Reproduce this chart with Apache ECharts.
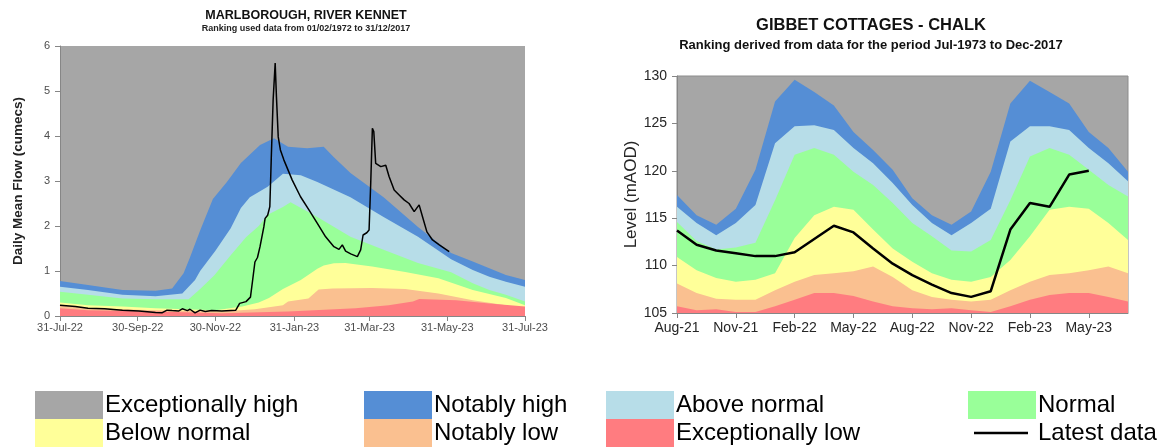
<!DOCTYPE html>
<html><head><meta charset="utf-8">
<script src="https://cdn.jsdelivr.net/npm/echarts@6/dist/echarts.min.js"></script>
<style>html,body{margin:0;padding:0;background:#fff}#c{width:1158px;height:448px}</style>
</head><body><div id="c"></div>
<script>
// ---------- Left chart: Marlborough, River Kennet (day offset from 31-Jul-22, flow in cumecs) ----------
const flowTickDays = [0, 61, 122, 184, 243, 304, 365];
const flowTickLabels = ['31-Jul-22', '30-Sep-22', '30-Nov-22', '31-Jan-23', '31-Mar-23', '31-May-23', '31-Jul-23'];

const flowNotablyHighTop = [[0,0.78],[22,0.69],[49,0.58],[75,0.56],[88,0.61],[97,0.95],[102,1.3],[110,1.9],[120,2.6],[131,2.98],[142,3.4],[157,3.8],[168,3.95],[179,3.76],[194,3.73],[207,3.76],[215,3.53],[228,3.18],[254,2.64],[281,1.98],[307,1.4],[324,1.21],[337,1.06],[350,0.91],[365,0.8]];
const flowAboveNormalTop = [[0,0.65],[22,0.58],[49,0.47],[75,0.44],[96,0.5],[106,0.8],[110,1.0],[122,1.45],[134,1.95],[142,2.4],[149,2.64],[163,2.87],[175,3.16],[189,3.13],[202,2.98],[228,2.64],[254,2.2],[281,1.76],[307,1.26],[324,1.02],[337,0.87],[350,0.76],[365,0.65]];
const flowNormalTop = [[0,0.54],[22,0.47],[49,0.39],[75,0.37],[101,0.37],[110,0.6],[121,0.9],[134,1.35],[146,1.75],[156,2.0],[163,2.25],[175,2.42],[181,2.53],[202,2.2],[228,1.76],[254,1.47],[281,1.18],[307,0.97],[324,0.73],[337,0.58],[350,0.47],[365,0.32]];
const flowBelowNormalTop = [[0,0.3],[22,0.24],[49,0.21],[75,0.17],[122,0.13],[143,0.21],[156,0.3],[164,0.4],[175,0.6],[189,0.8],[202,1.05],[207,1.12],[215,1.17],[224,1.18],[245,1.1],[271,0.98],[297,0.84],[324,0.58],[350,0.4],[365,0.24]];
const flowNotablyLowTop = [[0,0.24],[22,0.17],[75,0.13],[127,0.1],[153,0.15],[175,0.24],[179,0.32],[195,0.39],[203,0.59],[214,0.61],[245,0.62],[271,0.6],[297,0.5],[324,0.35],[350,0.24],[365,0.17]];
const flowExLowTop = [[0,0.17],[22,0.13],[75,0.1],[127,0.06],[179,0.1],[232,0.17],[258,0.24],[277,0.32],[282,0.38],[311,0.35],[337,0.28],[365,0.21]];
const flowLatest = [[0,0.24],[12,0.21],[22,0.17],[35,0.16],[49,0.13],[62,0.11],[75,0.08],[80,0.07],[84,0.13],[88,0.12],[93,0.11],[96,0.16],[100,0.12],[102,0.15],[106,0.07],[110,0.13],[114,0.1],[119,0.12],[127,0.11],[138,0.13],[141,0.28],[146,0.32],[149.5,0.42],[151,0.75],[153,1.2],[155,1.3],[157,1.54],[160,1.98],[161,2.17],[163,2.24],[164.7,2.43],[165.8,3.47],[167.3,4.8],[168.9,5.62],[169.9,4.87],[171.3,3.98],[173,3.69],[175.7,3.47],[182.3,3.02],[188.8,2.65],[195.4,2.36],[202,2.06],[208.5,1.76],[215,1.54],[219,1.48],[221.6,1.58],[224.2,1.44],[228.2,1.38],[233.4,1.32],[236,1.47],[237.9,1.8],[240.8,1.85],[242.6,1.91],[243.9,2.95],[245.2,4.17],[246.3,4.1],[247.8,3.39],[251.8,3.32],[255.7,3.35],[258.3,3.1],[262.3,2.8],[266.2,2.69],[270.1,2.58],[274,2.5],[278,2.32],[281.9,2.47],[284.5,2.21],[288,1.87],[292.4,1.69],[297.7,1.58],[305.5,1.43]];

// ---------- Right chart: Gibbet Cottages - Chalk (monthly level, mAOD) ----------
const levelMonths = ['Aug-21','Sep-21','Oct-21','Nov-21','Dec-21','Jan-22','Feb-22','Mar-22','Apr-22','May-22','Jun-22','Jul-22','Aug-22','Sep-22','Oct-22','Nov-22','Dec-22','Jan-23','Feb-23','Mar-23','Apr-23','May-23','Jun-23','Jul-23'];
const levelNotablyHighTop = [117.45,115.3,114.3,116.0,120.1,127.3,129.6,128.3,126.9,124.1,122.2,120.1,117.1,115.3,114.3,115.7,119.9,127.1,129.5,128.3,127.1,124.1,122.4,119.9];
const levelAboveNormalTop = [116.2,114.5,113.2,114.5,116.4,122.9,124.7,124.8,124.3,122.4,120.8,118.7,116.4,114.5,113.2,114.5,116.0,123.1,124.7,124.7,124.3,122.4,120.8,118.9];
const levelNormalTop = [114.6,112.6,111.7,111.9,112.4,116.9,121.7,122.4,121.7,119.9,118.5,116.6,114.5,113.1,111.6,111.5,112.7,116.9,121.5,122.4,121.7,120.1,118.5,117.3];
const levelBelowNormalTop = [110.9,109.5,108.7,108.3,108.5,109.2,112.9,115.3,116.2,115.9,113.8,111.8,110.4,109.2,108.5,108.3,108.8,110.6,113.1,115.9,116.2,116.0,114.5,112.7];
const levelNotablyLowTop = [108.1,107.1,106.5,106.4,106.4,107.4,108.3,109.0,109.2,109.4,109.9,108.8,107.4,106.7,106.4,106.2,106.4,107.4,108.3,109.0,109.2,109.5,109.9,109.2];
const levelExLowTop = [105.7,105.3,105.4,105.1,105.1,105.7,106.4,107.1,107.1,106.8,106.2,105.7,105.5,105.4,105.5,105.3,105.1,105.7,106.4,106.9,107.1,107.1,106.7,106.2];
const levelLatest = [113.7,112.2,111.6,111.3,111.0,111.0,111.4,112.8,114.2,113.5,111.8,110.2,109.0,108.0,107.1,106.7,107.3,113.8,116.6,116.2,119.6,120.0];

const FONT = 'Liberation Sans, Arial, sans-serif';
const C = {
  exHigh: '#A6A6A6', notHigh: '#558ED5', above: '#B7DDE8', normal: '#99FF99',
  below: '#FFFF99', notLow: '#FAC090', exLow: '#FF7C80', latest: '#000000'
};

function band(name, color, data, idx) {
  return {
    type: 'line', name: name, xAxisIndex: idx, yAxisIndex: idx, data: data,
    symbol: 'none', showSymbol: false, silent: true, animation: false,
    lineStyle: { opacity: 0 }, itemStyle: { color: color },
    areaStyle: { color: color, opacity: 1, origin: 'start' }
  };
}

const chart = echarts.init(document.getElementById('c'), null, { renderer: 'canvas' });

const legendBase = {
  orient: 'vertical', itemGap: 0, itemWidth: 68, itemHeight: 28, icon: 'rect',
  selectedMode: false, top: 391, height: 56, padding: 0, itemStyle: { borderWidth: 0 },
  textStyle: { fontSize: 24, color: '#000', fontFamily: FONT, lineHeight: 28, padding: [0, 0, 0, -3] }
};

chart.setOption({
  animation: false,
  textStyle: { fontFamily: FONT },
  title: [
    { text: 'MARLBOROUGH, RIVER KENNET', left: 306, top: 16, textAlign: 'center', textVerticalAlign: 'middle', padding: 0,
      textStyle: { fontSize: 12.5, fontWeight: 'bold', color: '#111', fontFamily: FONT } },
    { text: 'Ranking used data from 01/02/1972 to 31/12/2017', left: 306, top: 29, textAlign: 'center', textVerticalAlign: 'middle', padding: 0,
      textStyle: { fontSize: 9, fontWeight: 'bold', color: '#222', fontFamily: FONT } },
    { text: 'GIBBET COTTAGES - CHALK', left: 871, top: 25, textAlign: 'center', textVerticalAlign: 'middle', padding: 0,
      textStyle: { fontSize: 16.5, fontWeight: 'bold', color: '#111', fontFamily: FONT } },
    { text: 'Ranking derived from data for the period Jul-1973 to Dec-2017', left: 871, top: 45, textAlign: 'center', textVerticalAlign: 'middle', padding: 0,
      textStyle: { fontSize: 13, fontWeight: 'bold', color: '#111', fontFamily: FONT } }
  ],
  legend: [
    Object.assign({}, legendBase, { left: 35, data: ['Exceptionally high', 'Below normal'] }),
    Object.assign({}, legendBase, { left: 364, data: ['Notably high', 'Notably low'] }),
    Object.assign({}, legendBase, { left: 606, data: ['Above normal', 'Exceptionally low'] }),
    Object.assign({}, legendBase, { left: 968, data: ['Normal', { name: 'Latest data', icon: 'path://M0,0M68,28M6,12.8L60,12.8L60,15.2L6,15.2Z' }] })
  ],
  grid: [
    { left: 60, right: 1158 - 525, top: 46, bottom: 448 - 316, show: true, backgroundColor: C.exHigh, borderWidth: 0 },
    { left: 677, right: 1158 - 1128, top: 76, bottom: 448 - 313, show: true, backgroundColor: C.exHigh, borderColor: '#8c8c8c', borderWidth: 1 }
  ],
  xAxis: [
    { type: 'value', gridIndex: 0, min: 0, max: 365,
      axisLine: { show: true, onZero: false, lineStyle: { color: '#868686', width: 1 } },
      axisTick: { show: true, customValues: flowTickDays, length: 5, lineStyle: { color: '#868686' } },
      axisLabel: { customValues: flowTickDays, formatter: function (v) { const i = flowTickDays.indexOf(v); return i >= 0 ? flowTickLabels[i] : ''; },
        margin: 6, fontSize: 11, color: '#4d4d4d', fontFamily: FONT },
      splitLine: { show: false } },
    { type: 'category', gridIndex: 1, data: levelMonths, boundaryGap: false,
      axisLine: { show: true, onZero: false, lineStyle: { color: '#868686', width: 1 } },
      axisTick: { show: true, interval: 2, length: 5, lineStyle: { color: '#868686' } },
      axisLabel: { interval: 2, margin: 8, fontSize: 14, color: '#262626', fontFamily: FONT },
      splitLine: { show: false } }
  ],
  yAxis: [
    { type: 'value', gridIndex: 0, min: 0, max: 6, interval: 1,
      name: 'Daily Mean Flow (cumecs)', nameLocation: 'middle', nameRotate: 90, nameGap: 35,
      nameTextStyle: { fontSize: 13.5, fontWeight: 'bold', color: '#222', fontFamily: FONT },
      axisLine: { show: true, lineStyle: { color: '#868686', width: 1 } },
      axisTick: { show: true, length: 5, lineStyle: { color: '#868686' } },
      axisLabel: { margin: 10, fontSize: 11, color: '#4d4d4d', fontFamily: FONT },
      splitLine: { show: false } },
    { type: 'value', gridIndex: 1, min: 105, max: 130, interval: 5,
      name: 'Level (mAOD)', nameLocation: 'middle', nameRotate: 90, nameGap: 36,
      nameTextStyle: { fontSize: 17, color: '#262626', fontFamily: FONT },
      axisLine: { show: true, lineStyle: { color: '#868686', width: 1 } },
      axisTick: { show: true, length: 5, lineStyle: { color: '#868686' } },
      axisLabel: { margin: 10, fontSize: 14, color: '#262626', fontFamily: FONT },
      splitLine: { show: false } }
  ],
  series: [
    band('Exceptionally high', C.exHigh, [], 0),
    band('Notably high', C.notHigh, flowNotablyHighTop, 0),
    band('Above normal', C.above, flowAboveNormalTop, 0),
    band('Normal', C.normal, flowNormalTop, 0),
    band('Below normal', C.below, flowBelowNormalTop, 0),
    band('Notably low', C.notLow, flowNotablyLowTop, 0),
    band('Exceptionally low', C.exLow, flowExLowTop, 0),
    { type: 'line', name: 'Latest data', xAxisIndex: 0, yAxisIndex: 0, data: flowLatest,
      symbol: 'none', showSymbol: false, silent: true, itemStyle: { color: C.latest },
      lineStyle: { color: C.latest, width: 1.5 } },

    band('Notably high', C.notHigh, levelNotablyHighTop, 1),
    band('Above normal', C.above, levelAboveNormalTop, 1),
    band('Normal', C.normal, levelNormalTop, 1),
    band('Below normal', C.below, levelBelowNormalTop, 1),
    band('Notably low', C.notLow, levelNotablyLowTop, 1),
    band('Exceptionally low', C.exLow, levelExLowTop, 1),
    { type: 'line', name: 'Latest data', xAxisIndex: 1, yAxisIndex: 1, data: levelLatest,
      symbol: 'none', showSymbol: false, silent: true, itemStyle: { color: C.latest },
      lineStyle: { color: C.latest, width: 2.5 } }
  ]
});
</script>
</body></html>
